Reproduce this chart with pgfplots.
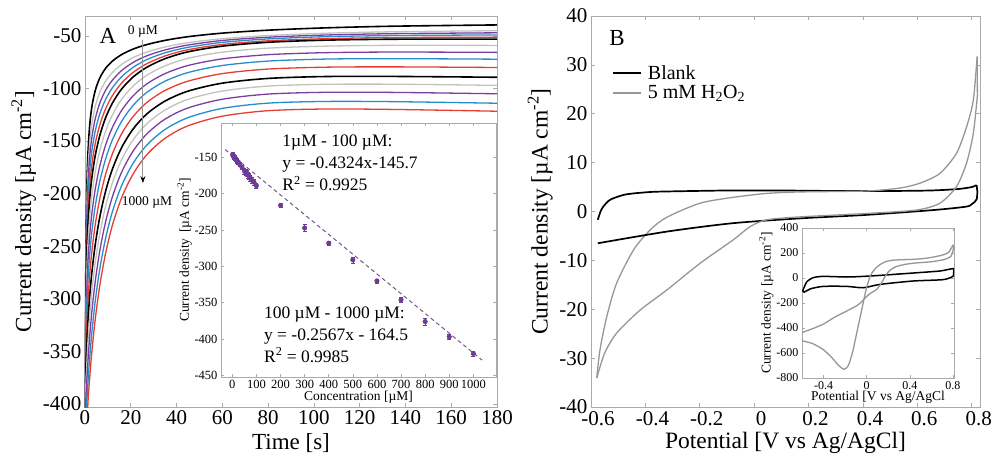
\documentclass[border=0pt]{standalone}
\usepackage{fontspec}
\setmainfont{Liberation Serif}
\usepackage{pgfplots}
\usepackage{pgfplotstable}
\pgfplotsset{compat=1.18}
\usetikzlibrary{arrows.meta}

\definecolor{cpurple}{RGB}{125,60,160}
\definecolor{cblue}{RGB}{40,140,200}
\definecolor{cred}{RGB}{230,60,50}
\definecolor{clgray}{RGB}{192,196,188}
\definecolor{frame}{RGB}{170,170,170}
\definecolor{cvgray}{RGB}{150,150,150}
\definecolor{cdot}{RGB}{110,60,150}

\pgfplotstableread{
t c0 c1 c2 c3 c4 c5 c6 c7 c8 c9 c10 c11 c12 c13 c14
0 -600 -600 -600 -600 -600 -600 -600 -600 -600 -600 -600 -600 -600 -600 -600
0.3 -296.6 -306.2 -312.2 -318.3 -324.6 -330.4 -340.5 -351.2 -361.7 -373.8 -387.1 -398.9 -411.0 -424.0 -435.7
0.7 -206.5 -221.4 -232.7 -244.1 -255.6 -266.7 -282.1 -298.1 -313.9 -331.3 -349.9 -367.0 -384.3 -402.7 -419.6
1.2 -166.0 -182.5 -195.4 -208.4 -221.5 -234.2 -251.2 -268.8 -286.2 -305.2 -325.4 -344.1 -363.0 -383.0 -401.5
2 -136.3 -153.1 -166.4 -179.7 -193.2 -206.3 -223.6 -241.5 -259.2 -278.5 -299.1 -318.1 -337.4 -357.7 -376.6
3 -117.4 -133.7 -146.5 -159.2 -172.2 -184.8 -201.6 -219.0 -236.2 -255.0 -275.1 -293.6 -312.3 -332.1 -350.5
4.5 -101.7 -116.9 -128.5 -140.2 -152.0 -163.5 -179.2 -195.4 -211.6 -229.2 -248.2 -265.5 -283.2 -301.9 -319.1
6.5 -89.8 -103.5 -113.7 -123.9 -134.4 -144.4 -158.6 -173.4 -188.1 -204.3 -221.8 -237.8 -254.0 -271.2 -287.0
9 -80.8 -93.0 -101.7 -110.4 -119.3 -127.8 -140.5 -153.8 -167.0 -181.7 -197.7 -212.1 -226.8 -242.5 -256.8
12 -73.9 -84.7 -92.0 -99.2 -106.7 -113.8 -125.0 -136.9 -148.7 -162.0 -176.5 -189.5 -202.8 -217.0 -229.9
16 -67.7 -77.1 -82.9 -88.8 -94.8 -100.5 -110.3 -120.8 -131.2 -143.0 -156.2 -167.7 -179.6 -192.4 -203.9
21 -62.5 -70.6 -75.2 -79.9 -84.7 -89.1 -97.7 -107.0 -116.1 -126.7 -138.6 -148.9 -159.6 -171.2 -181.4
27 -58.2 -65.3 -68.9 -72.5 -76.4 -79.8 -87.4 -95.6 -103.7 -113.3 -124.2 -133.6 -143.2 -153.8 -163.0
35 -54.2 -60.5 -63.3 -66.0 -69.0 -71.6 -78.4 -85.8 -93.0 -101.8 -111.9 -120.4 -129.1 -138.9 -147.3
45 -50.7 -56.4 -58.6 -60.8 -63.1 -65.1 -71.3 -78.1 -84.8 -93.0 -102.5 -110.3 -118.5 -127.7 -135.5
60 -47.3 -52.6 -54.3 -56.1 -58.1 -59.7 -65.4 -71.8 -78.1 -85.8 -94.9 -102.4 -110.2 -118.9 -126.3
80 -44.5 -49.6 -51.2 -52.8 -54.6 -56.0 -61.6 -67.8 -73.9 -81.5 -90.4 -97.7 -105.3 -113.9 -121.1
105 -42.3 -47.4 -49.1 -50.7 -52.6 -54.0 -59.7 -65.9 -72.0 -79.7 -88.6 -96.0 -103.6 -112.3 -119.5
135 -40.7 -46.0 -47.8 -49.6 -51.5 -53.1 -58.9 -65.3 -71.6 -79.4 -88.5 -95.9 -103.7 -112.5 -119.9
180 -39.5 -45.0 -47.0 -49.0 -51.2 -53.0 -59.0 -65.6 -72.1 -80.0 -89.3 -97.0 -105.0 -114.0 -121.6
}\chrono

\pgfplotsset{
  base/.style={
    scale only axis,
    axis line style={frame, line width=0.8pt},
    tick style={frame, line width=0.6pt},
    major tick length=4pt,
    tick align=inside,
    scaled ticks=false,
    /pgf/number format/assume math mode=true,
    /pgf/number format/1000 sep={},
    tick label style={font=\fontsize{21}{24}\selectfont},
    label style={font=\fontsize{23}{26}\selectfont},
  }
}

\begin{document}
\begin{tikzpicture}
\path[use as bounding box] (0,0) rectangle (993pt,456pt);

% ---------------- Panel A ----------------
\begin{axis}[base,
  at={(85pt,49pt)}, anchor=south west, width=412pt, height=391pt,
  xmin=0, xmax=180, ymin=-403, ymax=-31,
  xtick={0,20,...,180}, ytick={-400,-350,...,-50},
  xlabel={Time [s]},
  ylabel={Current density [µA cm\textsuperscript{-2}]},
  xlabel style={yshift=-2pt},
  every axis plot/.append style={smooth, tension=0.5, line width=1.3pt},
]
\addplot[black, line width=1.6pt] table[x=t,y=c0] {\chrono};
\addplot[clgray] table[x=t,y=c1] {\chrono};
\addplot[cpurple] table[x=t,y=c2] {\chrono};
\addplot[cblue] table[x=t,y=c3] {\chrono};
\addplot[cred] table[x=t,y=c4] {\chrono};
\addplot[black, line width=1.6pt] table[x=t,y=c5] {\chrono};
\addplot[clgray] table[x=t,y=c6] {\chrono};
\addplot[cpurple] table[x=t,y=c7] {\chrono};
\addplot[cblue] table[x=t,y=c8] {\chrono};
\addplot[cred] table[x=t,y=c9] {\chrono};
\addplot[black, line width=1.6pt] table[x=t,y=c10] {\chrono};
\addplot[clgray] table[x=t,y=c11] {\chrono};
\addplot[cpurple] table[x=t,y=c12] {\chrono};
\addplot[cblue] table[x=t,y=c13] {\chrono};
\addplot[cred] table[x=t,y=c14] {\chrono};
\node[font=\fontsize{23}{26}\selectfont] at (axis cs:10,-50) {A};
\node[font=\fontsize{13.5}{15}\selectfont] at (axis cs:25.3,-46) {0 µM};
\draw[cvgray, line width=1pt, -{Stealth[length=7pt,width=5pt,black]}] (axis cs:25.3,-54) -- (axis cs:25.3,-190);
\node[font=\fontsize{13.5}{15}\selectfont] at (axis cs:27.1,-208) {1000 µM};
\end{axis}

% ---------------- Inset A ----------------
\begin{axis}[base,
  at={(221pt,79pt)}, anchor=south west, width=275pt, height=254pt,
  axis background/.style={fill=white},
  xmin=-47, xmax=1094, ymin=-452.3, ymax=-102.5,
  xtick={0,100,...,1000}, ytick={-450,-400,...,-150},
  major tick length=3pt,
  tick label style={font=\fontsize{12.5}{14}\selectfont},
  label style={font=\fontsize{13.5}{15}\selectfont},
  xlabel={Concentration [µM]},
  ylabel={Current density\, [µA cm\textsuperscript{-2}]},
  xlabel style={yshift=5pt},
  ylabel style={yshift=-4pt},
]
\addplot[cdot!60!gray, dashed, dash pattern=on 4pt off 3pt, line width=1pt] coordinates {(-30,-139) (1036,-429)};
\addplot[cdot, only marks, mark=*, mark size=2.3pt,
  error bars/.cd, y dir=both, y explicit, error bar style={cdot, line width=0.6pt}, error mark options={cdot, mark size=2pt, rotate=90}]
coordinates {
(1,-146.1) +- (0,3)
(3,-146.9) +- (0,3)
(5,-147.9) +- (0,3)
(8,-149.3) +- (0,3)
(10,-150.5) +- (0,3)
(13,-151.4) +- (0,3)
(15,-152.2) +- (0,3)
(18,-153.8) +- (0,3)
(20,-154.8) +- (0,3)
(25,-156.5) +- (0,3)
(30,-158.9) +- (0,3)
(40,-163.5) +- (0,3)
(50,-168.5) +- (0,4)
(55,-170.6) +- (0,4)
(60,-171.4) +- (0,4)
(65,-173.9) +- (0,4)
(70,-175.8) +- (0,4)
(75,-178.6) +- (0,4)
(80,-180.9) +- (0,4)
(90,-184.0) +- (0,4)
(100,-188.9) +- (0,4)
(200,-216) +- (0,3)
(300,-247) +- (0,5)
(400,-268) +- (0,3)
(500,-291) +- (0,4)
(600,-320) +- (0,3)
(700,-346) +- (0,3)
(800,-376) +- (0,5)
(900,-397) +- (0,3)
(1000,-420) +- (0,3)
};
\node[anchor=west, align=left, inner sep=0pt, font=\fontsize{17.5}{22}\selectfont] at (axis cs:207,-157.7) {1µM - 100 µM:\\y = -0.4324x-145.7\\R\textsuperscript{2} = 0.9925};
\node[anchor=west, align=left, inner sep=0pt, font=\fontsize{17.5}{22}\selectfont] at (axis cs:131,-393.8) {100 µM - 1000 µM:\\y = -0.2567x - 164.5\\R\textsuperscript{2} = 0.9985};
\end{axis}

% ---------------- Panel B ----------------
\begin{axis}[base,
  at={(591pt,49pt)}, anchor=south west, width=389pt, height=391pt,
  xmin=-0.6, xmax=0.8305, ymin=-40, ymax=40,
  xtick={-0.6,-0.4,-0.2,0,0.2,0.4,0.6,0.8},
  ytick={-40,-30,-20,-10,0,10,20,30,40},
  xticklabel style={xshift=7pt, yshift=-1pt},
  xlabel={Potential [V vs Ag/AgCl]},
  ylabel={Current density [µA cm\textsuperscript{-2}]},
  label style={font=\fontsize{23.5}{26}\selectfont},
  legend style={draw=none, fill=none, at={(0.054,0.88)}, anchor=north west,
    font=\fontsize{20}{22}\selectfont, row sep=1pt, inner sep=0pt},
  legend cell align=left,
  legend image code/.code={\draw[#1] (0pt,0pt) -- (28pt,0pt); \path (32pt,0pt);},
]
% Blank: forward branch
\addplot[black, line width=1.7pt, smooth, tension=0.45] coordinates {
(-0.575,-1.7) (-0.565,0) (-0.555,1.0) (-0.535,2.2) (-0.518,2.7) (-0.48,3.4)
(-0.444,3.7) (-0.38,4.0) (-0.32,4.1) (-0.1,4.3) (0.1,4.3) (0.3,4.2) (0.5,4.2)
(0.65,4.3) (0.75,4.6) (0.8,5.0) (0.818,5.4)
};
\addlegendentry{Blank}
\addplot[cvgray, line width=1.3pt, smooth, tension=0.45] coordinates {
(-0.579,-34.1) (-0.567,-28.3) (-0.542,-21.5) (-0.506,-14.7) (-0.444,-7.9)
(-0.383,-3.8) (-0.322,-1.2) (-0.199,1.7) (-0.077,2.9) (0.046,3.7) (0.168,4.0)
(0.414,4.2) (0.536,4.8) (0.61,5.8) (0.683,7.8) (0.744,11.9) (0.781,17.3)
(0.806,22.8) (0.82,31.7)
};
\addlegendentry{5 mM H\textsubscript{2}O\textsubscript{2}}
% Blank: reverse branch
\addplot[black, line width=1.7pt, forget plot] coordinates {(0.818,5.4) (0.821,4.0) (0.819,2.6)};
\addplot[black, line width=1.7pt, smooth, tension=0.45, forget plot] coordinates {
(0.819,2.6) (0.81,1.9) (0.8,1.5) (0.78,1.0) (0.66,0.3) (0.41,-0.7) (0.17,-1.4)
(-0.08,-2.4) (-0.32,-4.1) (-0.575,-6.5)
};
% H2O2: reverse branch
\addplot[cvgray, line width=1.3pt, forget plot] coordinates {(0.82,31.7) (0.821,23.8)};
\addplot[cvgray, line width=1.3pt, smooth, tension=0.45, forget plot] coordinates {
(0.821,23.8) (0.806,16.0) (0.781,9.9) (0.744,5.1)
(0.683,1.7) (0.597,0.3) (0.414,-0.4) (0.168,-1.1) (0.046,-1.7) (-0.015,-3.1)
(-0.077,-5.8) (-0.199,-10.6) (-0.322,-16.1) (-0.42,-20.2) (-0.506,-24.9)
(-0.55,-29.0) (-0.579,-34.1)
};
\node[font=\fontsize{23}{26}\selectfont] at (axis cs:-0.504,35.5) {B};
\end{axis}

% ---------------- Inset B ----------------
\begin{axis}[base,
  at={(802pt,78pt)}, anchor=south west, width=152pt, height=150pt,
  axis background/.style={fill=white},
  xmin=-0.6, xmax=0.81, ymin=-800, ymax=400,
  xtick={-0.4,0,0.4,0.8}, ytick={-800,-600,-400,-200,0,200,400},
  major tick length=3pt,
  tick label style={font=\fontsize{12}{13}\selectfont},
  label style={font=\fontsize{13.5}{15}\selectfont},
  xlabel={Potential [V vs Ag/AgCl},
  ylabel={Current density [µA cm\textsuperscript{-2}]},
  xlabel style={yshift=5pt},
  ylabel style={yshift=-4pt},
]
\addplot[black, line width=1.5pt, smooth, tension=0.4] coordinates {
(-0.594,-105) (-0.557,-32) (-0.495,3) (-0.402,13) (-0.185,8) (-0.031,13)
(0.124,21) (0.432,40) (0.68,56) (0.804,75) (0.806,40) (0.8,13) (0.71,-13)
(0.43,-24) (0.124,-51) (-0.031,-78) (-0.185,-67) (-0.402,-67) (-0.52,-86)
(-0.58,-113) (-0.594,-105)
};
\addplot[cvgray, line width=1.3pt, smooth, tension=0.4] coordinates {
(-0.6,-502) (-0.5,-525) (-0.4,-575) (-0.32,-640) (-0.26,-700) (-0.21,-730)
(-0.17,-700) (-0.13,-590) (-0.09,-430) (-0.05,-270) (-0.01,-110) (0.03,10)
(0.07,65) (0.12,105) (0.18,132) (0.25,143) (0.35,147) (0.45,150) (0.55,158)
(0.62,168) (0.7,183) (0.76,205) (0.8,262) (0.805,240) (0.8,215) (0.78,172)
(0.72,148) (0.6,130) (0.45,120) (0.35,108) (0.27,90) (0.22,65) (0.18,25)
(0.14,-35) (0.1,-85) (0.07,-105) (0.03,-125) (-0.02,-165) (-0.08,-215)
(-0.18,-262) (-0.3,-315) (-0.4,-368) (-0.5,-405) (-0.6,-440) (-0.6,-502)
};
\end{axis}
\end{tikzpicture}
\end{document}
